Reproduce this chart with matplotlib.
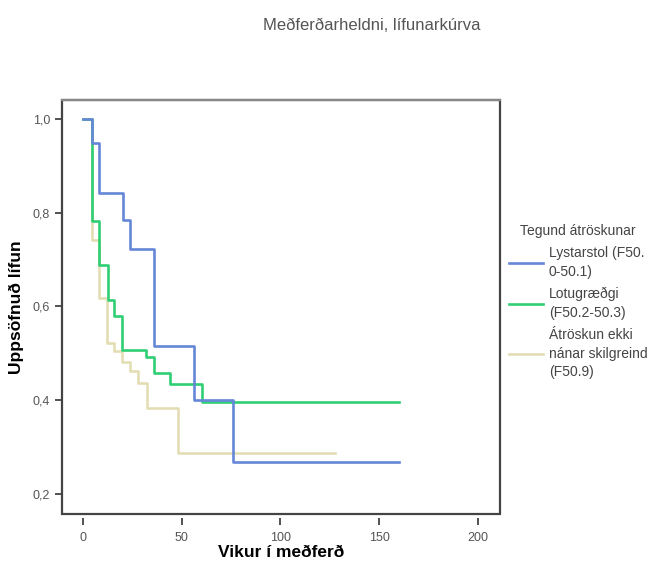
import matplotlib
matplotlib.use("Agg")
import matplotlib.pyplot as plt
from matplotlib.patches import Rectangle
from matplotlib.ticker import FuncFormatter

plt.rcParams['font.family'] = ['Liberation Sans', 'DejaVu Sans']

# Kaplan-Meier step data (weeks, cumulative survival)
t_lyst = [0, 4.7, 8.3, 20.1, 24.0, 36.1, 56.2, 76.2, 160]
s_lyst = [1.0, 0.949, 0.841, 0.785, 0.723, 0.516, 0.400, 0.267, 0.267]

t_lotu = [0, 4.7, 8.3, 12.5, 15.9, 19.9, 31.9, 36.1, 44.1, 60.1, 160]
s_lotu = [1.0, 0.782, 0.689, 0.614, 0.580, 0.507, 0.492, 0.457, 0.434, 0.397, 0.397]

t_atr = [0, 4.7, 8.3, 12.0, 15.9, 19.9, 23.8, 28.0, 32.2, 48.3, 127.7]
s_atr = [1.0, 0.742, 0.617, 0.521, 0.504, 0.482, 0.463, 0.437, 0.383, 0.287, 0.287]

labels = ['Lystarstol (F50.\n0-50.1)', 'Lotugræðgi\n(F50.2-50.3)',
          'Átröskun ekki\nnánar skilgreind\n(F50.9)']
colors = ['#6687d8', '#2fcf74', '#e3ddb3']

fig = plt.figure(figsize=(6.57, 5.63), dpi=100)
ax = fig.add_axes([62/657, 1 - 514/563, 438/657, 414/563])

ax.step(t_atr, s_atr, where='post', color=colors[2], lw=1.9, label=labels[2], zorder=2)
ax.step(t_lotu, s_lotu, where='post', color=colors[1], lw=1.9, label=labels[1], zorder=3)
ax.step(t_lyst, s_lyst, where='post', color=colors[0], lw=1.9, label=labels[0], zorder=4)

ax.set_xlim(-10.6, 211.2)
ax.set_ylim(0.157, 1.0405)
ax.set_xticks([0, 50, 100, 150, 200])
ax.set_yticks([0.2, 0.4, 0.6, 0.8, 1.0])
ax.yaxis.set_major_formatter(FuncFormatter(lambda v, p: f'{v:.1f}'.replace('.', ',')))
ax.tick_params(labelsize=9, labelcolor='#555555', color='#333333', width=1.2, length=5)
ax.tick_params(axis='x', pad=5)

# frame drawn separately so the x ticks sit detached below it
for side in ['top', 'right', 'left', 'bottom']:
    ax.spines[side].set_visible(False)
ax.spines['bottom'].set_position(('outward', 3))
ax.add_patch(Rectangle((0, 0), 1, 1, transform=ax.transAxes, fill=False,
                       lw=1.6, edgecolor='#444444', clip_on=False, zorder=5))
ax.plot([0, 1], [1, 1], transform=ax.transAxes, color='#888888', lw=1.6,
        clip_on=False, zorder=6)

ax.set_xlabel('Vikur í meðferð', fontsize=12.5, fontweight='bold', labelpad=1)
ax.set_ylabel('Uppsöfnuð lífun', fontsize=12.5, fontweight='bold', labelpad=6)

handles, labs = ax.get_legend_handles_labels()
order = [2, 1, 0]
leg = fig.legend([handles[i] for i in order], [labs[i] for i in order],
                 title='Tegund átröskunar', loc='upper left',
                 bbox_to_anchor=(503/657, 1 - 218/563), frameon=False,
                 fontsize=10, title_fontsize=10, handlelength=2.5,
                 handletextpad=0.4, labelspacing=0.62, borderaxespad=0)
for txt in leg.get_texts():
    txt.set_color('#444444')
    txt.set_linespacing(1.4)
leg.get_title().set_color('#444444')

fig.text(263/657, 1 - 25/563, 'Meðferðarheldni, lífunarkúrva', fontsize=12,
         color='#555555', va='center')

fig.savefig('out.png', dpi=100)
